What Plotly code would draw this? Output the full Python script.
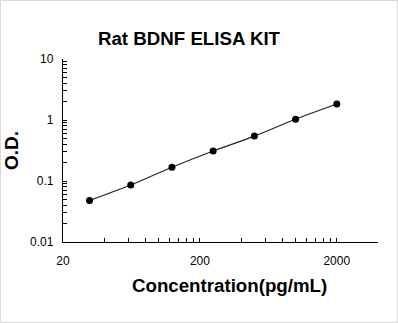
import plotly.graph_objects as go

concentration = [31.25, 62.5, 125, 250, 500, 1000, 2000]
od = [0.048, 0.086, 0.168, 0.31, 0.545, 1.03, 1.83]

x_tickvals = [20, 40, 60, 80, 100, 120, 140, 160, 180, 200,
              400, 600, 800, 1000, 1200, 1400, 1600, 1800, 2000, 4000]
x_ticktext = ["20"] + [""] * 8 + ["200"] + [""] * 8 + ["2000", ""]
y_tickvals = [0.01, 0.02, 0.03, 0.04, 0.05, 0.06, 0.07, 0.08, 0.09,
              0.1, 0.2, 0.3, 0.4, 0.5, 0.6, 0.7, 0.8, 0.9,
              1, 2, 3, 4, 5, 6, 7, 8, 9, 10]
y_ticktext = ["0.01"] + [""] * 8 + ["0.1"] + [""] * 8 + ["1"] + [""] * 8 + ["10"]

W, H = 398, 323
L, R, T, B = 63, 20, 59, 81
pw, ph = W - L - R, H - T - B

fig = go.Figure()
fig.add_trace(go.Scatter(
    x=concentration, y=od, mode="lines+markers",
    line=dict(color="#222222", width=1.2, shape="spline"),
    marker=dict(color="black", size=7),
    showlegend=False,
))

font = "Liberation Sans, Arial, sans-serif"
fig.update_layout(
    width=W, height=H,
    margin=dict(l=L, r=R, t=T, b=B),
    paper_bgcolor="white", plot_bgcolor="white",
    font=dict(family=font, color="black", size=12),
    title=dict(text="<b>Rat BDNF ELISA KIT</b>", x=(189 - L) / pw, xref="paper",
               xanchor="center", y=1 - 38 / H, yanchor="middle",
               font=dict(size=18.7, family=font, color="black")),
    xaxis=dict(
        type="log", range=[1.30103, 3.60206],
        tickvals=x_tickvals, ticktext=x_ticktext,
        ticks="inside", ticklen=4, tickcolor="black", tickwidth=1,
        showline=True, linecolor="black", linewidth=1.3,
        showgrid=False, zeroline=False, ticklabelstandoff=7,
        tickfont=dict(size=12, family=font, color="black"),
    ),
    yaxis=dict(
        type="log", range=[-2, 1],
        tickvals=y_tickvals, ticktext=y_ticktext,
        ticks="inside", ticklen=4, tickcolor="black", tickwidth=1,
        showline=True, linecolor="black", linewidth=1.3,
        showgrid=False, zeroline=False, ticklabelstandoff=6,
        tickfont=dict(size=12, family=font, color="black"),
        title=dict(text="<b>O.D.</b>",
                   font=dict(size=19, family=font, color="black"), standoff=6),
    ),
)

fig.add_annotation(text="<b>Concentration(pg/mL)</b>", xref="paper", yref="paper",
                   x=(229 - L) / pw, y=-(285 - (T + ph)) / ph,
                   xanchor="center", yanchor="middle", showarrow=False,
                   font=dict(size=18.7, family=font, color="black"))

fig.add_shape(type="rect", xref="paper", yref="paper",
              x0=(0.5 - L) / pw, x1=(W - 0.5 - L) / pw,
              y0=-(B - 0.5) / ph, y1=1 + (T - 0.5) / ph,
              line=dict(color="#d9d9d9", width=1), layer="below")

fig.write_html("out.html")
